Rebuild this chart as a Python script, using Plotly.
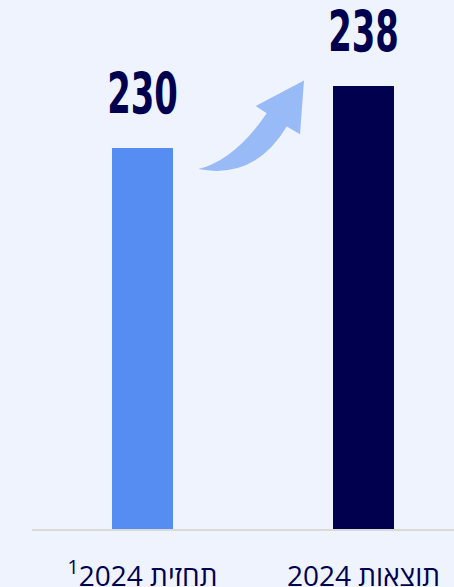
import plotly.graph_objects as go

categories = ["תחזית <sup>1</sup>2024", "תוצאות 2024"]
values = [230, 238]
bar_colors = ["#568DF2", "#00004F"]
value_labels = ["230", "238"]

W, H = 454, 587
ML, MB = 32, 57.5
plot_w = W - ML
plot_h = H - MB

x_pos = [0, 1]
x_range = [-0.5, 1.4095]
y_range = [180.5, 249.2]

fig = go.Figure()
fig.add_trace(go.Bar(
    x=x_pos, y=values, marker_color=bar_colors, width=0.276,
    marker_line_width=0, hoverinfo="skip", showlegend=False,
))

for xi, v, t in zip(x_pos, values, value_labels):
    fig.add_annotation(
        x=xi, y=v, text=t, showarrow=False, yanchor="bottom", yshift=19,
        font=dict(family="DejaVu Sans Condensed, Liberation Sans, sans-serif",
                  size=57, color="#00004F", weight="bold"),
    )

# decorative curved arrow (pixel coords -> paper)
def P(px, py):
    return f"{(px - ML) / plot_w:.4f},{(plot_h - py) / plot_h:.4f}"

arrow_path = (
    f"M {P(198.3,169.3)} "
    f"Q {P(255,180)} {P(286.7,126.7)} "
    f"L {P(300,134.3)} L {P(304,80.7)} L {P(255.7,106)} L {P(266.7,113.3)} "
    f"Q {P(235,160)} {P(198.3,169.3)} Z"
)
fig.add_shape(type="path", path=arrow_path, xref="paper", yref="paper",
              fillcolor="#98BAF7", line=dict(width=0), layer="above")

fig.update_layout(
    width=W, height=H,
    margin=dict(l=ML, r=0, t=0, b=MB),
    paper_bgcolor="#EEF3FD", plot_bgcolor="#EEF3FD",
    bargap=0,
    xaxis=dict(
        range=x_range, tickvals=x_pos, ticktext=categories,
        showgrid=False, zeroline=False, showline=True,
        linecolor="#D9D9D9", linewidth=2,
        ticks="outside", ticklen=21, tickcolor="rgba(0,0,0,0)",
        tickfont=dict(family="Open Sans, Noto Sans, DejaVu Sans", size=28, color="#00004F"),
        fixedrange=True, automargin=False,
    ),
    yaxis=dict(range=y_range, visible=False, showgrid=False, zeroline=False, fixedrange=True),
)

post = """
document.body.style.margin = '0';
document.body.style.background = '#EEF3FD';
var gd = document.getElementById('{plot_id}');
function squeeze(){
  gd.querySelectorAll('.annotation-text-g text').forEach(function(t){
    var b = t.getBBox();
    var cx = b.x + b.width / 2;
    t.setAttribute('transform', 'translate(' + cx + ',0) scale(0.66,1) translate(' + (-cx) + ',0)');
  });
}
squeeze();
gd.on('plotly_afterplot', squeeze);
"""

fig.write_html("out.html", post_script=post, config={"displayModeBar": False})
